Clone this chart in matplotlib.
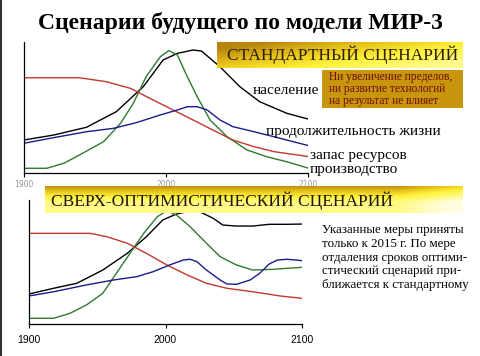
import numpy as np
import matplotlib.pyplot as plt
from matplotlib.colors import LinearSegmentedColormap

W, H = 481, 356

# --- data (years, relative level 0..100) ---
std_pop_years = [1900, 1921, 1944, 1965, 1984, 1998, 2008, 2019, 2025, 2038, 2052, 2066, 2085, 2100]
std_pop = [25.2, 29.0, 34.9, 46.8, 65.9, 86.3, 91.3, 93.9, 93.1, 81.1, 65.9, 54.4, 45.6, 41.2]

std_prod_years = [1900, 1916, 1928, 1939, 1956, 1968, 1977, 1986, 1996, 2002, 2008, 2015, 2022, 2031, 2043, 2057, 2071, 2085, 2100]
std_prod = [3.6, 3.6, 7.4, 13.7, 23.9, 37.9, 53.2, 73.5, 88.8, 93.4, 90.1, 73.5, 58.2, 40.5, 27.7, 17.6, 12.4, 8.6, 3.8]

std_res_years = [1900, 1939, 1958, 1975, 1991, 2005, 2019, 2033, 2047, 2062, 2076, 2100]
std_res = [72.7, 72.7, 69.7, 64.6, 55.7, 48.1, 40.5, 32.8, 25.2, 20.1, 16.3, 12.6]

std_life_years = [1900, 1921, 1944, 1963, 1979, 1996, 2008, 2015, 2022, 2029, 2038, 2047, 2062, 2076, 2100]
std_life = [22.7, 27.0, 31.5, 34.1, 38.4, 44.3, 48.1, 50.6, 50.6, 48.1, 40.5, 35.4, 31.5, 27.7, 21.0]

opt_pop_years = [1900, 1918, 1935, 1954, 1972, 1986, 1998, 2008, 2018, 2025, 2035, 2042, 2052, 2064, 2076, 2089, 2100]
opt_pop = [24.2, 28.8, 32.8, 43.5, 57.0, 70.4, 83.9, 88.7, 91.1, 90.6, 85.2, 79.8, 79.0, 79.0, 80.4, 80.4, 80.6]

opt_prod_years = [1900, 1918, 1930, 1942, 1954, 1964, 1974, 1984, 1994, 2001, 2008, 2018, 2030, 2040, 2052, 2064, 2079, 2089, 2100]
opt_prod = [4.6, 4.6, 8.6, 15.3, 24.7, 40.9, 57.0, 73.1, 86.5, 91.4, 87.9, 78.5, 65.1, 54.3, 47.6, 43.5, 44.1, 44.9, 45.7]

opt_res_years = [1900, 1945, 1957, 1972, 1986, 2001, 2016, 2030, 2045, 2064, 2084, 2100]
opt_res = [73.1, 73.1, 70.4, 65.1, 57.0, 47.6, 39.5, 32.8, 28.8, 26.0, 22.6, 20.7]

opt_life_years = [1900, 1918, 1942, 1962, 1979, 1991, 2003, 2013, 2018, 2023, 2030, 2040, 2045, 2052, 2062, 2069, 2076, 2082, 2089, 2100]
opt_life = [22.6, 26.0, 31.5, 35.5, 38.2, 42.2, 47.6, 51.6, 52.2, 50.3, 43.5, 35.5, 32.3, 32.0, 35.5, 40.9, 48.4, 51.6, 52.2, 51.1]

tick_years = [1900, 2000, 2100]

C_BLACK = '#000000'
C_GREEN = '#2f7a2f'
C_RED = '#c0392b'
C_BLUE = '#1a1a8c'
SERIF = 'Liberation Serif'


def box(x0, y0, x1, y1):
    # pixel box (top-left origin) -> figure fraction rect
    return [x0 / W, 1 - y1 / H, (x1 - x0) / W, (y1 - y0) / H]


def fx(x):
    return x / W


def fy(y):
    return 1 - y / H


def draw_lines(ax, series):
    for yrs, vals, col in series:
        ax.plot(yrs, vals, color=col, lw=1.0)
    ax.set_xlim(1900, 2100)
    ax.set_ylim(0, 100)
    ax.set_yticks([])
    ax.set_xticks(tick_years)
    ax.spines['top'].set_visible(False)
    ax.spines['right'].set_visible(False)
    ax.spines['left'].set_linewidth(0.9)
    ax.spines['bottom'].set_linewidth(0.9)
    ax.patch.set_alpha(0)


def banner(rect, mode):
    bax = fig.add_axes(rect)
    bax.set_axis_off()
    ny, nx = 40, 200
    v = np.linspace(0, 1, ny)[:, None]
    h = np.linspace(0, 1, nx)[None, :]
    if mode == 'top':
        t = np.clip(0.55 * v + 0.75 * h - 0.15, 0, 1)
    else:
        t = np.clip(1.6 * v, 0, 1) * np.ones_like(h)
        t = np.clip(t + 0.4 * np.clip((h - 0.85) / 0.15, 0, 1), 0, 1.3)
    cmap = LinearSegmentedColormap.from_list(
        'gold', ['#b8860b', '#e6c21a', '#fff23a', '#fffa80', '#fffde0'])
    bax.imshow(t / 1.3, cmap=cmap, vmin=0, vmax=1, aspect='auto',
               extent=[0, 1, 0, 1], interpolation='bilinear')
    bax.set_xlim(0, 1)
    bax.set_ylim(0, 1)
    return bax


fig = plt.figure(figsize=(W / 100, H / 100), dpi=100)
fig.patch.set_facecolor('white')

# title
fig.text(0.5, fy(23), 'Сценарии будущего по модели МИР-3', ha='center', va='center',
         fontsize=17, fontweight='bold', family=SERIF)

# ---- top chart: standard scenario ----
ax1 = fig.add_axes(box(24, 42, 308, 173))
draw_lines(ax1, [(std_pop_years, std_pop, C_BLACK),
                 (std_prod_years, std_prod, C_GREEN),
                 (std_res_years, std_res, C_RED),
                 (std_life_years, std_life, C_BLUE)])
ax1.tick_params(axis='x', length=3, width=0.8, direction='out', labelsize=5.5,
                labelcolor='#999999', pad=2)
ax1.get_xticklabels()[0].set_x(1890)

# labels right of top chart
lab_kw = dict(fontsize=11, family=SERIF, va='center', ha='left')
fig.text(fx(253), fy(90), 'население', **lab_kw)
fig.text(fx(266), fy(132), 'продолжительность жизни', **lab_kw)
fig.text(fx(310), fy(155), 'запас ресурсов', **lab_kw)
fig.text(fx(310), fy(170), 'производство', **lab_kw)

# top banner
b1 = banner(box(217, 42, 463, 68), 'top')
b1.text(0.04, 0.5, 'СТАНДАРТНЫЙ СЦЕНАРИЙ', ha='left', va='center',
        fontsize=12.5, family=SERIF, color='#2b1d00')

# brown note box
nax = fig.add_axes(box(322, 70, 463, 108))
nax.set_axis_off()
nax.add_patch(plt.Rectangle((0, 0), 1, 1, color='#c8960c', transform=nax.transAxes))
nax.text(0.05, 0.5, 'Ни увеличение пределов,\nни развитие технологий\nна результат не влияет',
         ha='left', va='center', fontsize=8.3, family=SERIF, color='#6a0a00',
         linespacing=0.95)

# ---- bottom chart: super-optimistic scenario ----
ax2 = fig.add_axes(box(29, 200, 302, 324))
draw_lines(ax2, [(opt_pop_years, opt_pop, C_BLACK),
                 (opt_prod_years, opt_prod, C_GREEN),
                 (opt_res_years, opt_res, C_RED),
                 (opt_life_years, opt_life, C_BLUE)])
ax2.tick_params(axis='x', length=3, width=0.8, direction='out', labelsize=7.5,
                pad=5)
for lbl in ax2.get_xticklabels():
    lbl.set_family('Liberation Sans')

b2 = banner(box(45, 186, 463, 213), 'bottom')
b2.text(0.015, 0.45, 'СВЕРХ-ОПТИМИСТИЧЕСКИЙ СЦЕНАРИЙ', ha='left', va='center',
        fontsize=12.5, family=SERIF, color='#1e1400')

fig.text(fx(322), fy(224), 'Указанные меры приняты\nтолько к 2015 г. По мере\n'
         'отдаления сроков оптими-\nстический сценарий при-\nближается к стандартному',
         ha='left', va='top', fontsize=9.3, family=SERIF, linespacing=1.2)

# dark left edge
fig.add_artist(plt.Line2D([0.002, 0.002], [0, 1], color='#333333', lw=1.5,
                          transform=fig.transFigure))

fig.savefig('out.png', dpi=100)
